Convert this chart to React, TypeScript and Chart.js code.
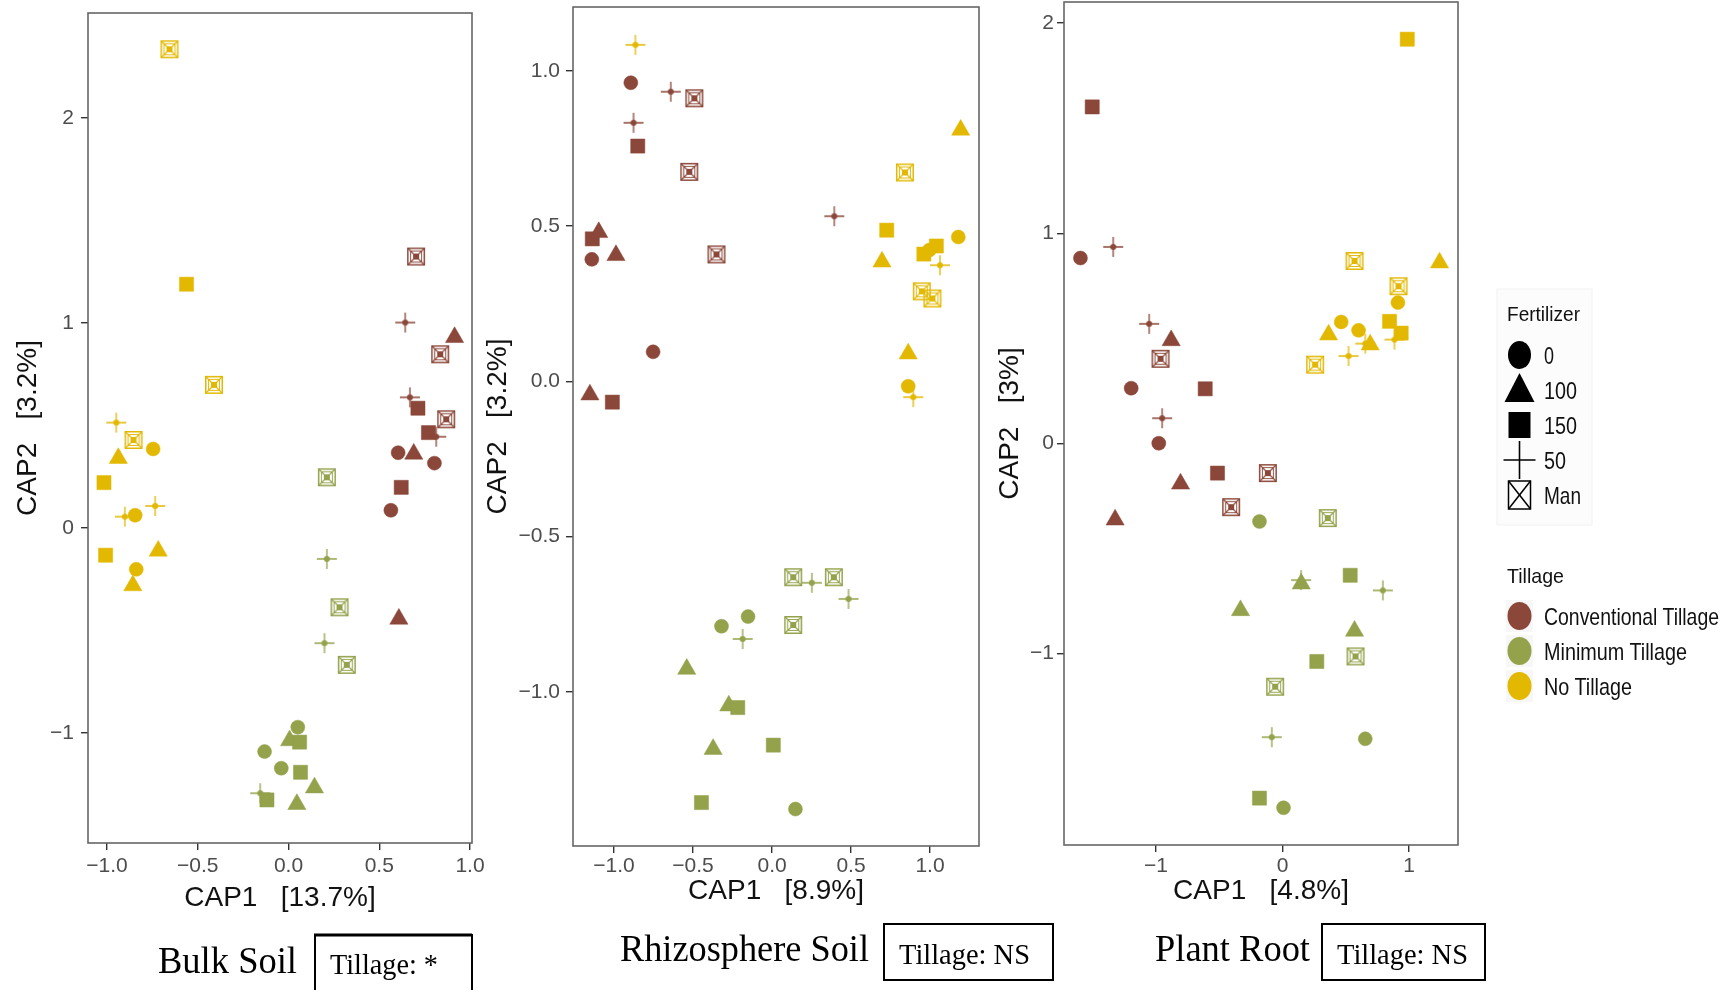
import React, { useEffect, useRef } from "react";
import { Chart, registerables } from "chart.js";

Chart.register(...registerables);

// [fertilizer, CAP1, CAP2]
type Sample = [string, number, number];

const tillageLevels = ["Conventional Tillage", "Minimum Tillage", "No Tillage"];
const tillageColors = ["#8B4739", "#93A24B", "#E2B800"];
const fertilizerLevels = ["0", "100", "150", "50", "Man"];

// ---- Bulk soil ----
const bulkConventional: Sample[] = [
  ["Man", 0.703, 1.324], ["50", 0.643, 1.002], ["100", 0.915, 0.93], ["Man", 0.836, 0.847],
  ["50", 0.669, 0.637], ["150", 0.713, 0.584], ["Man", 0.869, 0.53], ["150", 0.771, 0.465],
  ["50", 0.814, 0.445], ["0", 0.604, 0.367], ["100", 0.69, 0.361], ["0", 0.804, 0.316],
  ["150", 0.621, 0.198], ["0", 0.564, 0.086], ["100", 0.608, -0.444],
];
const bulkMinimum: Sample[] = [
  ["Man", 0.211, 0.247], ["50", 0.211, -0.151], ["Man", 0.281, -0.387], ["50", 0.198, -0.562],
  ["Man", 0.321, -0.668], ["0", 0.051, -0.972], ["100", 0.006, -1.037], ["150", 0.061, -1.045],
  ["0", -0.132, -1.091], ["0", -0.04, -1.172], ["150", 0.066, -1.192], ["100", 0.143, -1.267],
  ["50", -0.156, -1.294], ["150", -0.119, -1.327], ["100", 0.046, -1.348],
];
const bulkNo: Sample[] = [
  ["Man", -0.656, 2.335], ["150", -0.562, 1.189], ["Man", -0.411, 0.698], ["50", -0.949, 0.514],
  ["Man", -0.854, 0.429], ["0", -0.746, 0.385], ["100", -0.938, 0.34], ["150", -1.017, 0.221],
  ["50", -0.735, 0.107], ["50", -0.902, 0.055], ["0", -0.845, 0.062], ["150", -1.008, -0.133],
  ["100", -0.718, -0.112], ["0", -0.839, -0.202], ["100", -0.858, -0.281],
];

// ---- Rhizosphere soil ----
const rhizoConventional: Sample[] = [
  ["0", -0.894, 0.962], ["50", -0.641, 0.933], ["Man", -0.492, 0.912], ["50", -0.877, 0.833],
  ["150", -0.85, 0.758], ["Man", -0.524, 0.675], ["50", 0.394, 0.532], ["150", -1.138, 0.459],
  ["100", -1.097, 0.48], ["0", -1.141, 0.393], ["100", -0.988, 0.406], ["Man", -0.352, 0.409],
  ["0", -0.753, 0.095], ["100", -1.153, -0.043], ["150", -1.011, -0.067],
];
const rhizoMinimum: Sample[] = [
  ["Man", 0.134, -0.631], ["50", 0.252, -0.649], ["Man", 0.391, -0.631], ["50", 0.484, -0.701],
  ["0", -0.152, -0.758], ["0", -0.32, -0.789], ["Man", 0.134, -0.785], ["50", -0.186, -0.83],
  ["100", -0.54, -0.927], ["100", -0.274, -1.045], ["150", -0.217, -1.051], ["100", -0.373, -1.185],
  ["150", 0.008, -1.172], ["150", -0.447, -1.357], ["0", 0.148, -1.378],
];
const rhizoNo: Sample[] = [
  ["50", -0.865, 1.084], ["100", 1.194, 0.81], ["Man", 0.841, 0.673], ["150", 0.726, 0.487],
  ["0", 1.179, 0.465], ["0", 0.996, 0.423], ["150", 0.961, 0.41], ["150", 1.04, 0.436],
  ["100", 0.696, 0.385], ["50", 1.063, 0.374], ["Man", 0.948, 0.29], ["Man", 1.015, 0.267],
  ["100", 0.862, 0.089], ["0", 0.862, -0.016], ["50", 0.894, -0.051],
];

// ---- Plant root ----
const rootConventional: Sample[] = [
  ["150", -1.504, 1.601], ["0", -1.597, 0.882], ["50", -1.338, 0.935], ["50", -1.054, 0.569],
  ["100", -0.88, 0.49], ["Man", -0.964, 0.403], ["0", -1.196, 0.263], ["150", -0.611, 0.26],
  ["50", -0.951, 0.12], ["0", -0.978, 0.001], ["150", -0.514, -0.141], ["Man", -0.116, -0.141],
  ["100", -0.806, -0.192], ["Man", -0.406, -0.303], ["100", -1.323, -0.363],
];
const rootMinimum: Sample[] = [
  ["0", -0.182, -0.371], ["Man", 0.358, -0.355], ["150", 0.535, -0.627], ["50", 0.147, -0.65],
  ["100", 0.148, -0.667], ["50", 0.793, -0.699], ["100", -0.332, -0.794], ["100", 0.569, -0.892],
  ["150", 0.271, -1.037], ["Man", 0.577, -1.013], ["Man", -0.058, -1.157], ["50", -0.085, -1.397],
  ["0", 0.654, -1.405], ["150", -0.182, -1.687], ["0", 0.008, -1.733],
];
const rootNo: Sample[] = [
  ["150", 0.986, 1.923], ["100", 1.241, 0.86], ["Man", 0.569, 0.868], ["Man", 0.917, 0.748],
  ["0", 0.912, 0.67], ["0", 0.464, 0.578], ["150", 0.846, 0.581], ["0", 0.601, 0.538],
  ["150", 0.938, 0.525], ["100", 0.364, 0.517], ["50", 0.654, 0.475], ["100", 0.693, 0.47],
  ["50", 0.885, 0.494], ["50", 0.522, 0.416], ["Man", 0.258, 0.375],
];

// ---- Axis ticks ----
const halfStepTicks = [-1, -0.5, 0, 0.5, 1];
const halfStepLabels = ["\u22121.0", "\u22120.5", "0.0", "0.5", "1.0"];
const unitTicksY = [-1, 0, 1, 2];
const unitLabelsY = ["\u22121", "0", "1", "2"];
const unitTicksX = [-1, 0, 1];
const unitLabelsX = ["\u22121", "0", "1"];

const SANS = '"Liberation Sans", Arial, Helvetica, sans-serif';
const SERIF = '"Liberation Serif", "Times New Roman", Times, serif';

const markerCache = new Map<string, HTMLCanvasElement>();

function plusMarker(color: string): HTMLCanvasElement {
  const key = "plus" + color;
  const hit = markerCache.get(key);
  if (hit) return hit;
  const c = document.createElement("canvas");
  c.width = 24;
  c.height = 24;
  const g = c.getContext("2d")!;
  g.strokeStyle = color;
  g.lineWidth = 1.3;
  g.beginPath();
  g.moveTo(2, 12);
  g.lineTo(22, 12);
  g.moveTo(12, 2);
  g.lineTo(12, 22);
  g.stroke();
  g.fillStyle = color;
  g.beginPath();
  g.arc(12, 12, 3, 0, Math.PI * 2);
  g.fill();
  markerCache.set(key, c);
  return c;
}

function manMarker(color: string): HTMLCanvasElement {
  const key = "man" + color;
  const hit = markerCache.get(key);
  if (hit) return hit;
  const c = document.createElement("canvas");
  c.width = 20;
  c.height = 20;
  const g = c.getContext("2d")!;
  g.strokeStyle = color;
  g.lineWidth = 1.5;
  g.strokeRect(1.75, 1.75, 16.5, 16.5);
  g.lineWidth = 0.9;
  g.strokeRect(4.5, 4.5, 11, 11);
  g.lineWidth = 1.1;
  g.beginPath();
  g.moveTo(2, 2);
  g.lineTo(18, 18);
  g.moveTo(18, 2);
  g.lineTo(2, 18);
  g.stroke();
  g.fillStyle = color;
  g.fillRect(7, 7, 6, 6);
  markerCache.set(key, c);
  return c;
}

function markerStyle(fert: string, color: string): any {
  switch (fert) {
    case "0":
      return "circle";
    case "100":
      return "triangle";
    case "150":
      return "rect";
    case "50":
      return plusMarker(color);
    default:
      return manMarker(color);
  }
}

function markerRadius(fert: string): number {
  if (fert === "0") return 7;
  if (fert === "100") return 10.5;
  return 10;
}

interface PanelData {
  series: Sample[][];
  xRange: [number, number];
  yRange: [number, number];
  xTicks: number[];
  xLabels: string[];
  yTicks: number[];
  yLabels: string[];
  xTitle: string;
  yTitle: string;
}

interface PanelLayout {
  left: number;
  width: number;
  height: number;
  yAxisWidth: number;
  xAxisHeight: number;
  padTop: number;
  padRight: number;
  yTitlePad: number;
  xTitlePad: number;
  xTickPad: number;
  yTickPad: number;
}

const bulkPanel: PanelData = {
  series: [bulkConventional, bulkMinimum, bulkNo],
  xRange: [-1.105, 1.011],
  yRange: [-1.537, 2.512],
  xTicks: halfStepTicks,
  xLabels: halfStepLabels,
  yTicks: unitTicksY,
  yLabels: unitLabelsY,
  xTitle: "CAP1   [13.7%]",
  yTitle: "CAP2   [3.2%]",
};

const rhizoPanel: PanelData = {
  series: [rhizoConventional, rhizoMinimum, rhizoNo],
  xRange: [-1.26, 1.31],
  yRange: [-1.497, 1.206],
  xTicks: halfStepTicks,
  xLabels: halfStepLabels,
  yTicks: halfStepTicks,
  yLabels: halfStepLabels,
  xTitle: "CAP1   [8.9%]",
  yTitle: "CAP2   [3.2%]",
};

const rootPanel: PanelData = {
  series: [rootConventional, rootMinimum, rootNo],
  xRange: [-1.727, 1.387],
  yRange: [-1.91, 2.1],
  xTicks: unitTicksX,
  xLabels: unitLabelsX,
  yTicks: unitTicksY,
  yLabels: unitLabelsY,
  xTitle: "CAP1   [4.8%]",
  yTitle: "CAP2   [3%]",
};

const framePlugin = {
  id: "panelFrame",
  beforeDatasetsDraw(chart: any) {
    const { ctx, chartArea } = chart;
    const { left, top, right, bottom } = chartArea;
    ctx.save();
    ctx.strokeStyle = "#666666";
    ctx.lineWidth = 1.6;
    ctx.strokeRect(left, top, right - left, bottom - top);
    ctx.restore();
  },
};

function ScatterPanel({ data, layout }: { data: PanelData; layout: PanelLayout }) {
  const ref = useRef<HTMLCanvasElement>(null);

  useEffect(() => {
    const canvas = ref.current;
    if (!canvas) return;
    const datasets = data.series.map((pts, ti) => {
      const color = tillageColors[ti];
      const fertAt = (ctx: any) => (pts[ctx.dataIndex] ? pts[ctx.dataIndex][0] : "0");
      return {
        label: tillageLevels[ti],
        data: pts.map((p) => ({ x: p[1], y: p[2] })),
        pointStyle: (ctx: any) => markerStyle(fertAt(ctx), color),
        pointRadius: (ctx: any) => markerRadius(fertAt(ctx)),
        pointBackgroundColor: color,
        pointBorderColor: color,
        pointBorderWidth: 0.5,
        showLine: false,
      };
    });

    const tickFont = { family: SANS, size: 21 };
    const titleFont = { family: SANS, size: 28 };
    const gridOpts = {
      display: true,
      drawOnChartArea: false,
      drawTicks: true,
      tickLength: 7,
      color: "#333333",
      lineWidth: 1.4,
    };

    const chart = new Chart(canvas, {
      type: "scatter",
      data: { datasets: datasets as any },
      options: {
        responsive: false,
        animation: false,
        devicePixelRatio: 1,
        layout: {
          autoPadding: false,
          padding: { top: layout.padTop, right: layout.padRight, left: 0, bottom: 0 },
        },
        plugins: {
          legend: { display: false },
          tooltip: { enabled: false },
        },
        scales: {
          x: {
            type: "linear",
            min: data.xRange[0],
            max: data.xRange[1],
            afterBuildTicks: (s: any) => {
              s.ticks = data.xTicks.map((v) => ({ value: v }));
            },
            afterFit: (s: any) => {
              s.height = layout.xAxisHeight;
              s.paddingLeft = 0;
              s.paddingRight = 0;
            },
            ticks: {
              autoSkip: false,
              maxRotation: 0,
              color: "#4D4D4D",
              font: tickFont,
              padding: layout.xTickPad,
              callback: (_v: any, i: number) => data.xLabels[i],
            },
            grid: gridOpts,
            border: { display: false },
            title: {
              display: true,
              text: data.xTitle,
              color: "#111111",
              font: titleFont,
              padding: { top: 0, bottom: layout.xTitlePad },
            },
          },
          y: {
            type: "linear",
            min: data.yRange[0],
            max: data.yRange[1],
            afterBuildTicks: (s: any) => {
              s.ticks = data.yTicks.map((v) => ({ value: v }));
            },
            afterFit: (s: any) => {
              s.width = layout.yAxisWidth;
              s.paddingTop = 0;
              s.paddingBottom = 0;
            },
            ticks: {
              autoSkip: false,
              color: "#4D4D4D",
              font: tickFont,
              padding: layout.yTickPad,
              callback: (_v: any, i: number) => data.yLabels[i],
            },
            grid: gridOpts,
            border: { display: false },
            title: {
              display: true,
              text: data.yTitle,
              color: "#111111",
              font: titleFont,
              padding: { top: layout.yTitlePad, bottom: 0 },
            },
          },
        },
      } as any,
      plugins: [framePlugin],
    });
    return () => chart.destroy();
  }, [data, layout]);

  return (
    <canvas
      ref={ref}
      width={layout.width}
      height={layout.height}
      style={{
        position: "absolute",
        left: layout.left,
        top: 0,
        width: layout.width,
        height: layout.height,
        display: "block",
      }}
    />
  );
}

// canvases are transparent, so the first one may extend under the second
const bulkLayout: PanelLayout = {
  left: 0, width: 500, height: 920, yAxisWidth: 88, xAxisHeight: 77,
  padTop: 13, padRight: 28, yTitlePad: 11.5, xTitlePad: 5, xTickPad: 4, yTickPad: 7,
};
const rhizoLayout: PanelLayout = {
  left: 480, width: 510, height: 920, yAxisWidth: 93, xAxisHeight: 74,
  padTop: 7, padRight: 11, yTitlePad: 1, xTitlePad: 12, xTickPad: 1, yTickPad: 6,
};
const rootLayout: PanelLayout = {
  left: 990, width: 480, height: 920, yAxisWidth: 74, xAxisHeight: 75,
  padTop: 2, padRight: 12, yTitlePad: 3, xTitlePad: 12, xTickPad: 2, yTickPad: 3,
};

function LegendAndCaptions() {
  const lx = 1544;
  const sx = 1519.5;
  const fertRows = [355, 390, 425, 460, 495];
  const fertWidths = [10, 33, 33, 22, 37];
  const tillRows = [616, 651, 686];
  const tillWidths = [175, 143, 88];
  const black = "#000";

  const symbol = (fert: string, cy: number) => {
    switch (fert) {
      case "0":
        return <ellipse key={fert} cx={sx} cy={cy} rx={11.5} ry={14} fill={black} />;
      case "100":
        return (
          <polygon
            key={fert}
            points={`${sx},${cy - 17} ${sx - 15},${cy + 12} ${sx + 15},${cy + 12}`}
            fill={black}
          />
        );
      case "150":
        return <rect key={fert} x={sx - 11} y={cy - 13} width={22} height={26} fill={black} />;
      case "50":
        return (
          <g key={fert} stroke={black} strokeWidth={1.6}>
            <line x1={sx - 16} y1={cy} x2={sx + 16} y2={cy} />
            <line x1={sx} y1={cy - 19} x2={sx} y2={cy + 19} />
          </g>
        );
      default:
        return (
          <g key={fert} stroke={black} strokeWidth={1.5} fill="none">
            <rect x={sx - 11} y={cy - 14} width={22} height={28} />
            <line x1={sx - 11} y1={cy - 14} x2={sx + 11} y2={cy + 14} />
            <line x1={sx + 11} y1={cy - 14} x2={sx - 11} y2={cy + 14} />
          </g>
        );
    }
  };

  return (
    <svg
      width={1736}
      height={990}
      style={{ position: "absolute", left: 0, top: 0, pointerEvents: "none" }}
    >
      <rect x={1497} y={289} width={95} height={236} fill="#FCFCFC" stroke="#F2F2F2" />
      <text x={1507} y={313} fontFamily={SANS} fontSize={21} textLength={73}
        lengthAdjust="spacingAndGlyphs" dominantBaseline="central" fill="#111">
        Fertilizer
      </text>
      {fertilizerLevels.map((f, i) => symbol(f, fertRows[i]))}
      {fertilizerLevels.map((f, i) => (
        <text key={"fl" + f} x={lx} y={fertRows[i]} fontFamily={SANS} fontSize={24}
          textLength={fertWidths[i]} lengthAdjust="spacingAndGlyphs"
          dominantBaseline="central" fill="#111">
          {f}
        </text>
      ))}

      <text x={1507} y={575} fontFamily={SANS} fontSize={21} textLength={57}
        lengthAdjust="spacingAndGlyphs" dominantBaseline="central" fill="#111">
        Tillage
      </text>
      {tillageLevels.map((t, i) => (
        <g key={t}>
          <rect x={1506} y={tillRows[i] - 16} width={27} height={32} fill="#F7F7F7" />
          <ellipse cx={sx} cy={tillRows[i]} rx={12} ry={14} fill={tillageColors[i]} />
          <text x={lx} y={tillRows[i]} fontFamily={SANS} fontSize={24}
            textLength={tillWidths[i]} lengthAdjust="spacingAndGlyphs"
            dominantBaseline="central" fill="#111">
            {t}
          </text>
        </g>
      ))}

      {/* panel captions */}
      <text x={158} y={960} fontFamily={SERIF} fontSize={38} textLength={139}
        lengthAdjust="spacingAndGlyphs" dominantBaseline="central" fill="#000">
        Bulk Soil
      </text>
      <rect x={315} y={935} width={157} height={70} fill="#fff" stroke="#000" strokeWidth={2} />
      <line x1={314} y1={935} x2={472} y2={935} stroke="#000" strokeWidth={3} />
      <text x={330} y={963} fontFamily={SERIF} fontSize={30} textLength={108}
        lengthAdjust="spacingAndGlyphs" dominantBaseline="central" fill="#000">
        Tillage: *
      </text>

      <text x={620} y={948} fontFamily={SERIF} fontSize={38} textLength={249}
        lengthAdjust="spacingAndGlyphs" dominantBaseline="central" fill="#000">
        Rhizosphere Soil
      </text>
      <rect x={884} y={924} width={169} height={56} fill="#fff" stroke="#000" strokeWidth={2} />
      <text x={899} y={953} fontFamily={SERIF} fontSize={30} textLength={131}
        lengthAdjust="spacingAndGlyphs" dominantBaseline="central" fill="#000">
        Tillage: NS
      </text>

      <text x={1155} y={948} fontFamily={SERIF} fontSize={38} textLength={155}
        lengthAdjust="spacingAndGlyphs" dominantBaseline="central" fill="#000">
        Plant Root
      </text>
      <rect x={1322} y={924} width={163} height={56} fill="#fff" stroke="#000" strokeWidth={2} />
      <text x={1337} y={953} fontFamily={SERIF} fontSize={30} textLength={131}
        lengthAdjust="spacingAndGlyphs" dominantBaseline="central" fill="#000">
        Tillage: NS
      </text>
    </svg>
  );
}

export default function App() {
  return (
    <div
      style={{
        position: "absolute",
        left: 0,
        top: 0,
        width: 1736,
        height: 990,
        overflow: "hidden",
        background: "#fff",
      }}
    >
      <ScatterPanel data={bulkPanel} layout={bulkLayout} />
      <ScatterPanel data={rhizoPanel} layout={rhizoLayout} />
      <ScatterPanel data={rootPanel} layout={rootLayout} />
      <LegendAndCaptions />
    </div>
  );
}
